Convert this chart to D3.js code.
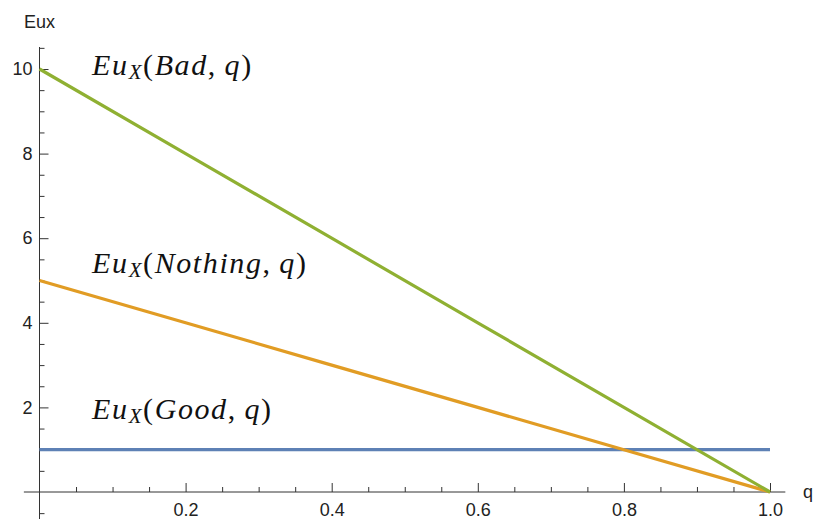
<!DOCTYPE html>
<html>
<head>
<meta charset="utf-8">
<script src="https://cdn.jsdelivr.net/npm/d3@7"></script>
<style>
  body { margin: 0; background: #fff; }
  svg { display: block; }
</style>
</head>
<body>
<div id="chart"></div>
<script>
// data
const qValues = [0, 0.2, 0.4, 0.6, 0.8, 1.0];
const goodValues = [1, 1, 1, 1, 1, 1];
const nothingValues = [5, 4, 3, 2, 1, 0];
const badValues = [10, 8, 6, 4, 2, 0];
const seriesNames = ["Good", "Nothing", "Bad"];
const seriesColors = ["#5e81b5", "#e19c24", "#8fb032"];
const xMajorTicks = [0.2, 0.4, 0.6, 0.8, 1.0];
const yMajorTicks = [2, 4, 6, 8, 10];
// label anchors in data coordinates (q, Eux baseline)
const labelAnchors = [[0.072, 1.73], [0.072, 5.18], [0.072, 9.86]];

const width = 815, height = 519;

let svg = d3.select("#chart").append("svg")
    .attr("width", width)
    .attr("height", height);

let x = d3.scaleLinear().domain([0, 1]).range([39.5, 770]);
let y = d3.scaleLinear().domain([0, 10]).range([492, 69]);

let series = [goodValues, nothingValues, badValues].map((vals, i) => ({
    name: seriesNames[i],
    color: seriesColors[i],
    points: qValues.map((q, j) => [q, vals[j]])
}));

// axis lines
let axisColor = "#333";
svg.append("line")
    .attr("x1", x(-0.0214)).attr("x2", x(1.021))
    .attr("y1", y(0)).attr("y2", y(0))
    .attr("stroke", axisColor);
svg.append("line")
    .attr("x1", x(0)).attr("x2", x(0))
    .attr("y1", y(10.52)).attr("y2", height)
    .attr("stroke", axisColor);

let xMinor = d3.range(1, 20).map(d => d * 0.05).filter(d => Math.abs(d * 5 - Math.round(d * 5)) > 1e-6);
let yMinor = d3.range(-1, 22).map(d => d * 0.5).filter(d => d % 2 !== 0);

let tickFont = "Liberation Sans, Arial, sans-serif";

let gx = svg.append("g").attr("transform", "translate(0," + y(0) + ")");
gx.call(d3.axisBottom(x).tickValues(xMajorTicks).tickSizeInner(-9).tickSizeOuter(0).tickPadding(11)
    .tickFormat(d3.format(".1f")));
gx.append("g").call(d3.axisBottom(x).tickValues(xMinor).tickSizeInner(-5).tickSizeOuter(0).tickFormat(""));

let gy = svg.append("g").attr("transform", "translate(" + x(0) + ",0)");
gy.call(d3.axisLeft(y).tickValues(yMajorTicks).tickSizeInner(-9).tickSizeOuter(0).tickPadding(7)
    .tickFormat(d3.format("d")));
gy.append("g").call(d3.axisLeft(y).tickValues(yMinor).tickSizeInner(-5).tickSizeOuter(0).tickFormat(""));

svg.selectAll(".domain").remove();
svg.selectAll(".tick line").attr("stroke", axisColor);
svg.selectAll(".tick text")
    .attr("fill", "#222")
    .style("font-family", tickFont)
    .style("font-size", "18px");

// axis labels
svg.append("text")
    .attr("x", x(0)).attr("y", 28)
    .attr("text-anchor", "middle")
    .style("font-family", tickFont).style("font-size", "18px")
    .attr("fill", "#222")
    .text("Eux");
svg.append("text")
    .attr("x", 803).attr("y", y(0))
    .attr("dy", "0.35em")
    .style("font-family", tickFont).style("font-size", "18px")
    .attr("fill", "#222")
    .text("q");

// lines
let line = d3.line().x(d => x(d[0])).y(d => y(d[1]));
svg.selectAll(".series")
    .data(series)
    .enter().append("path")
    .attr("class", "series")
    .attr("d", d => line(d.points))
    .attr("fill", "none")
    .attr("stroke", d => d.color)
    .attr("stroke-width", 3.2);

// math-style labels Eu_X(Name, q)
let labels = svg.selectAll(".mlabel")
    .data(series)
    .enter().append("text")
    .attr("class", "mlabel")
    .attr("x", (d, i) => x(labelAnchors[i][0]))
    .attr("y", (d, i) => y(labelAnchors[i][1]))
    .style("font-family", "Liberation Serif, Times New Roman, serif")
    .style("font-size", "30px")
    .style("letter-spacing", "1.6px")
    .attr("fill", "#111");

labels.each(function (d) {
    let t = d3.select(this);
    t.append("tspan").style("font-style", "italic").text("Eu");
    t.append("tspan").style("font-style", "italic").style("font-size", "21px")
        .attr("dy", 4).text("X");
    t.append("tspan").attr("dy", -4).text("(");
    t.append("tspan").style("font-style", "italic").text(d.name);
    t.append("tspan").text(",\u2009");
    t.append("tspan").style("font-style", "italic").text("q");
    t.append("tspan").text(")");
});
</script>
</body>
</html>
